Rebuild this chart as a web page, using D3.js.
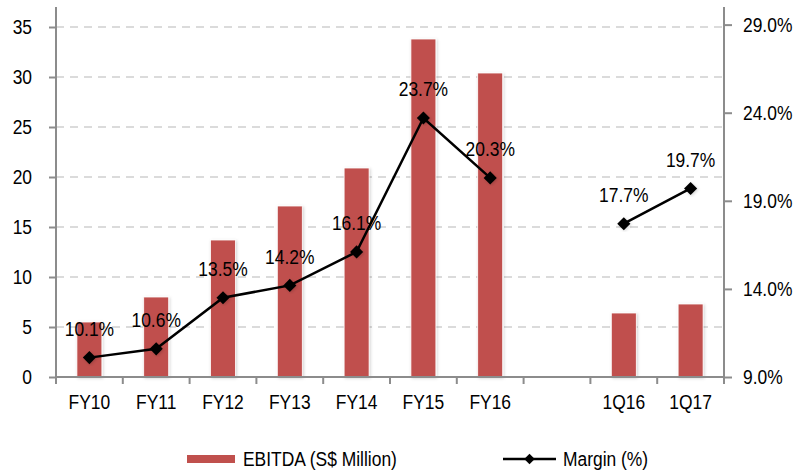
<!DOCTYPE html>
<html><head><meta charset="utf-8">
<script src="https://cdn.jsdelivr.net/npm/d3@7"></script>
<style>
html,body{margin:0;padding:0;background:#fff;}
text{font-family:"Liberation Sans",Arial,sans-serif;fill:#000;}
</style></head>
<body><svg id="c" width="796" height="472"></svg>
<script>
const categories = ["FY10","FY11","FY12","FY13","FY14","FY15","FY16","","1Q16","1Q17"];
const ebitda = [5.5, 8.0, 13.7, 17.1, 20.9, 33.8, 30.4, null, 6.4, 7.3];
const margin = [10.1, 10.6, 13.5, 14.2, 16.1, 23.7, 20.3, null, 17.7, 19.7];
const leftTicks = [0,5,10,15,20,25,30,35];
const rightTicks = [9,14,19,24,29];
const seriesNames = ["EBITDA (S$ Million)", "Margin (%)"];

const svg = d3.select("#c");
const L = 56, R = 724, T = 7, B = 377;
const FS = 21, NARROW = 0.83;
const x = d3.scaleBand().domain(categories.map((d,i)=>i)).range([L,R]).paddingInner(0).paddingOuter(0);
const yL = d3.scaleLinear().domain([0,37]).range([B,T]);
const yR = d3.scaleLinear().domain([9,30]).range([B,T]);
const barColor = "#C0504D";

const defs = svg.append("defs");
const f = defs.append("filter").attr("id","sh").attr("x","-30%").attr("y","-10%").attr("width","160%").attr("height","120%");
f.append("feDropShadow").attr("dx",1).attr("dy",1).attr("stdDeviation",1.5).attr("flood-color","#000").attr("flood-opacity",0.18);

// gridlines
svg.append("g").selectAll("line").data(leftTicks.filter(d=>d>0)).join("line")
  .attr("x1",L).attr("x2",R).attr("y1",d=>yL(d)).attr("y2",d=>yL(d))
  .attr("stroke","#d0d0d0").attr("stroke-width",1.5).attr("stroke-dasharray","8,6");

// bars
const bw = 25;
svg.append("g").selectAll("rect").data(ebitda.map((v,i)=>({v,i})).filter(d=>d.v!=null)).join("rect")
  .attr("x",d=>x(d.i)+x.bandwidth()/2-bw/2).attr("width",bw)
  .attr("y",d=>yL(d.v)).attr("height",d=>B-yL(d.v))
  .attr("fill",barColor).attr("stroke","#fff").attr("stroke-width",0.8).attr("filter","url(#sh)");

// axes
const axL = d3.axisLeft(yL).tickValues(leftTicks).tickSize(7).tickPadding(17).tickFormat(d3.format("d"));
const gL = svg.append("g").attr("transform",`translate(${L},0)`).call(axL);
const axR = d3.axisRight(yR).tickValues(rightTicks).tickSize(8).tickPadding(11).tickFormat(d=>d.toFixed(1)+"%");
const gR = svg.append("g").attr("transform",`translate(${R},0)`).call(axR);
const axB = d3.axisBottom(x).tickSize(0).tickPadding(17).tickFormat(i=>categories[i]);
const gB = svg.append("g").attr("transform",`translate(0,${B})`).call(axB);
// category boundary ticks
svg.append("g").selectAll("line").data(d3.range(categories.length+1)).join("line")
  .attr("x1",i=>i<categories.length?x(i):R).attr("x2",i=>i<categories.length?x(i):R)
  .attr("y1",B).attr("y2",B+7).attr("stroke","#8c8c8c").attr("stroke-width",2);
[gL,gR,gB].forEach(g=>{
  g.select(".domain").attr("stroke","#8c8c8c").attr("stroke-width",2);
  g.selectAll(".tick line").attr("stroke","#8c8c8c").attr("stroke-width",2);
  g.selectAll("text").attr("font-size",FS).attr("fill","#000");
});
gL.select(".domain").attr("d",`M0,${T}V${B}`);
gR.select(".domain").attr("d",`M0,${T}V${B}`);
gB.select(".domain").attr("d",`M${L},0H${R}`);

// margin line (broken at gap)
const pts = margin.map((v,i)=>({v,i}));
const line = d3.line().defined(d=>d.v!=null).x(d=>x(d.i)+x.bandwidth()/2).y(d=>yR(d.v));
svg.append("path").datum(pts).attr("d",line).attr("fill","none").attr("stroke","#000").attr("stroke-width",2.5);
const sym = d3.symbol().type(d3.symbolDiamond2).size(110);
svg.append("g").selectAll("path").data(pts.filter(d=>d.v!=null)).join("path")
  .attr("transform",d=>`translate(${x(d.i)+x.bandwidth()/2},${yR(d.v)})`)
  .attr("d",sym).attr("fill","#000").attr("filter","url(#sh)");
svg.append("g").selectAll("text").data(pts.filter(d=>d.v!=null)).join("text")
  .attr("x",d=>x(d.i)+x.bandwidth()/2).attr("y",d=>yR(d.v)-29).attr("dy","0.35em")
  .attr("text-anchor","middle").attr("font-size",FS).text(d=>d.v.toFixed(1)+"%");

// legend
const lg = svg.append("g");
lg.append("rect").attr("x",187).attr("y",455).attr("width",48).attr("height",8).attr("fill",barColor);
lg.append("text").attr("x",243).attr("y",459).attr("dy","0.35em").attr("font-size",FS).text(seriesNames[0]);
lg.append("line").attr("x1",503).attr("x2",556).attr("y1",459).attr("y2",459).attr("stroke","#000").attr("stroke-width",2.5);
lg.append("path").attr("transform","translate(529.5,459)").attr("d",d3.symbol().type(d3.symbolDiamond2).size(70)).attr("fill","#000");
lg.append("text").attr("x",563).attr("y",459).attr("dy","0.35em").attr("font-size",FS).text(seriesNames[1]);

// condense all text horizontally around its anchor to mimic a narrow face
svg.selectAll("text").each(function(){
  const ax = +(this.getAttribute("x") || 0);
  this.setAttribute("transform", `translate(${ax},0) scale(${NARROW},1) translate(${-ax},0)`);
});
</script></body></html>
